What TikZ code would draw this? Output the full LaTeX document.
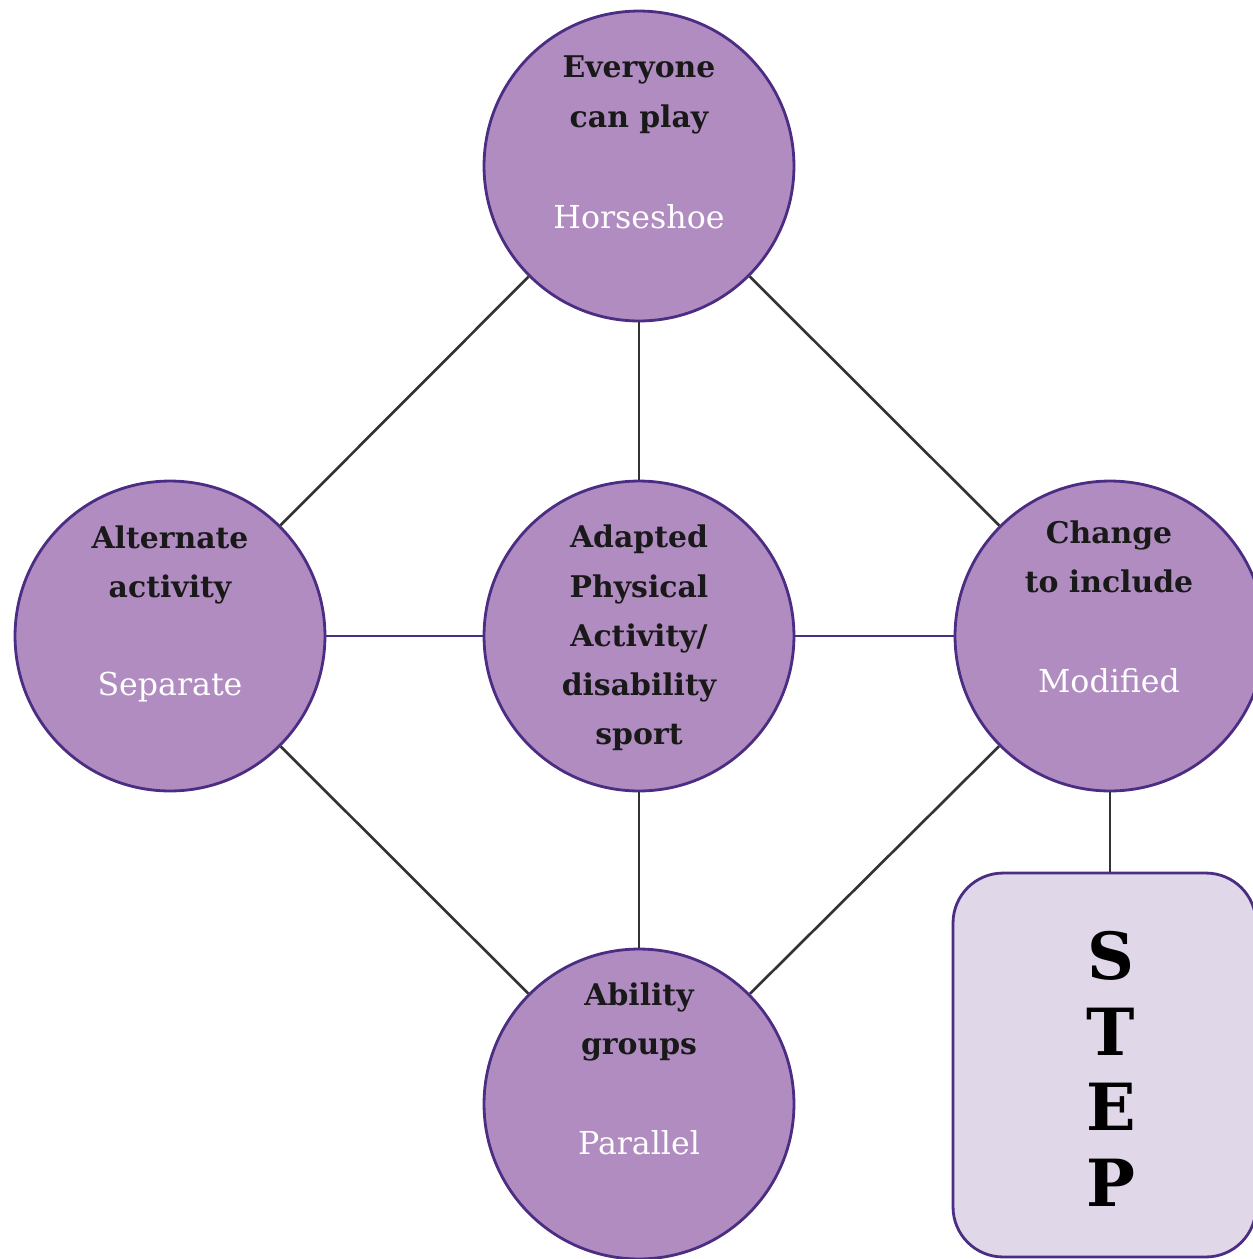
\documentclass[tikz,border=0pt]{standalone}
\usepackage{fontspec}
\setmainfont{DejaVu Serif}
\definecolor{discfill}{HTML}{B08CC0}
\definecolor{discline}{HTML}{4B2D84}
\definecolor{boxfill}{HTML}{E0D7E8}
\definecolor{linkgray}{HTML}{333333}

\begin{document}
\begin{tikzpicture}[x=0.02cm,y=-0.02cm,
  disc/.style={circle,draw=discline,fill=discfill,line width=1.6pt,minimum size=6.2cm,inner sep=0pt},
  dark/.style={font=\bfseries\fontsize{17}{28}\selectfont,text=black!90,align=center,inner sep=0pt},
  light/.style={font=\fontsize{18}{28}\selectfont,text=white,align=center,inner sep=0pt},
  link/.style={draw=linkgray,line width=1.5pt},
  hlink/.style={draw=discline,line width=1.5pt}]
\clip (0,0) rectangle (1253,1259);
\useasboundingbox (0,0) rectangle (1253,1259);

% circles
\node[disc] (top) at (639,166) {};
\node[disc] (left) at (170,636) {};
\node[disc] (mid) at (639,636) {};
\node[disc] (right) at (1110,636) {};
\node[disc] (bottom) at (639,1104) {};

% texts
\node[dark] (topT) at (639,95) {Everyone\\can play};
\node[light] (topW) at (639,217) {Horseshoe};
\node[dark] (leftT) at (170,565) {Alternate\\activity};
\node[light] (leftW) at (170,687) {Separate};
\node[dark] (midT) at (639,638) {Adapted\\Physical\\Activity/\\disability\\sport};
\node[dark] (rightT) at (1109,557) {Change\\to include};
\node[light] (rightW) at (1109,681) {Modified};
\node[dark] (bottomT) at (639,1022) {Ability\\groups};
\node[light] (bottomW) at (639,1143) {Parallel};

% STEP box
\node[draw=discline,fill=boxfill,line width=1.6pt,rounded corners=1cm,minimum width=6.06cm,minimum height=7.68cm] (stepbox) at (1104.5,1065) {};
\node[font=\bfseries\fontsize{37}{43}\selectfont,align=center,inner sep=0pt] (steptext) at (1111,1069) {S\\T\\E\\P};

% links
\foreach \a/\b in {top/left,top/mid,top/right,left/bottom,mid/bottom,right/bottom}
  \draw[link] (\a) -- (\b);
\draw[hlink] (left) -- (mid);
\draw[hlink] (mid) -- (right);
\draw[link] (right.south) -- (right.south |- stepbox.north);
\end{tikzpicture}
\end{document}
